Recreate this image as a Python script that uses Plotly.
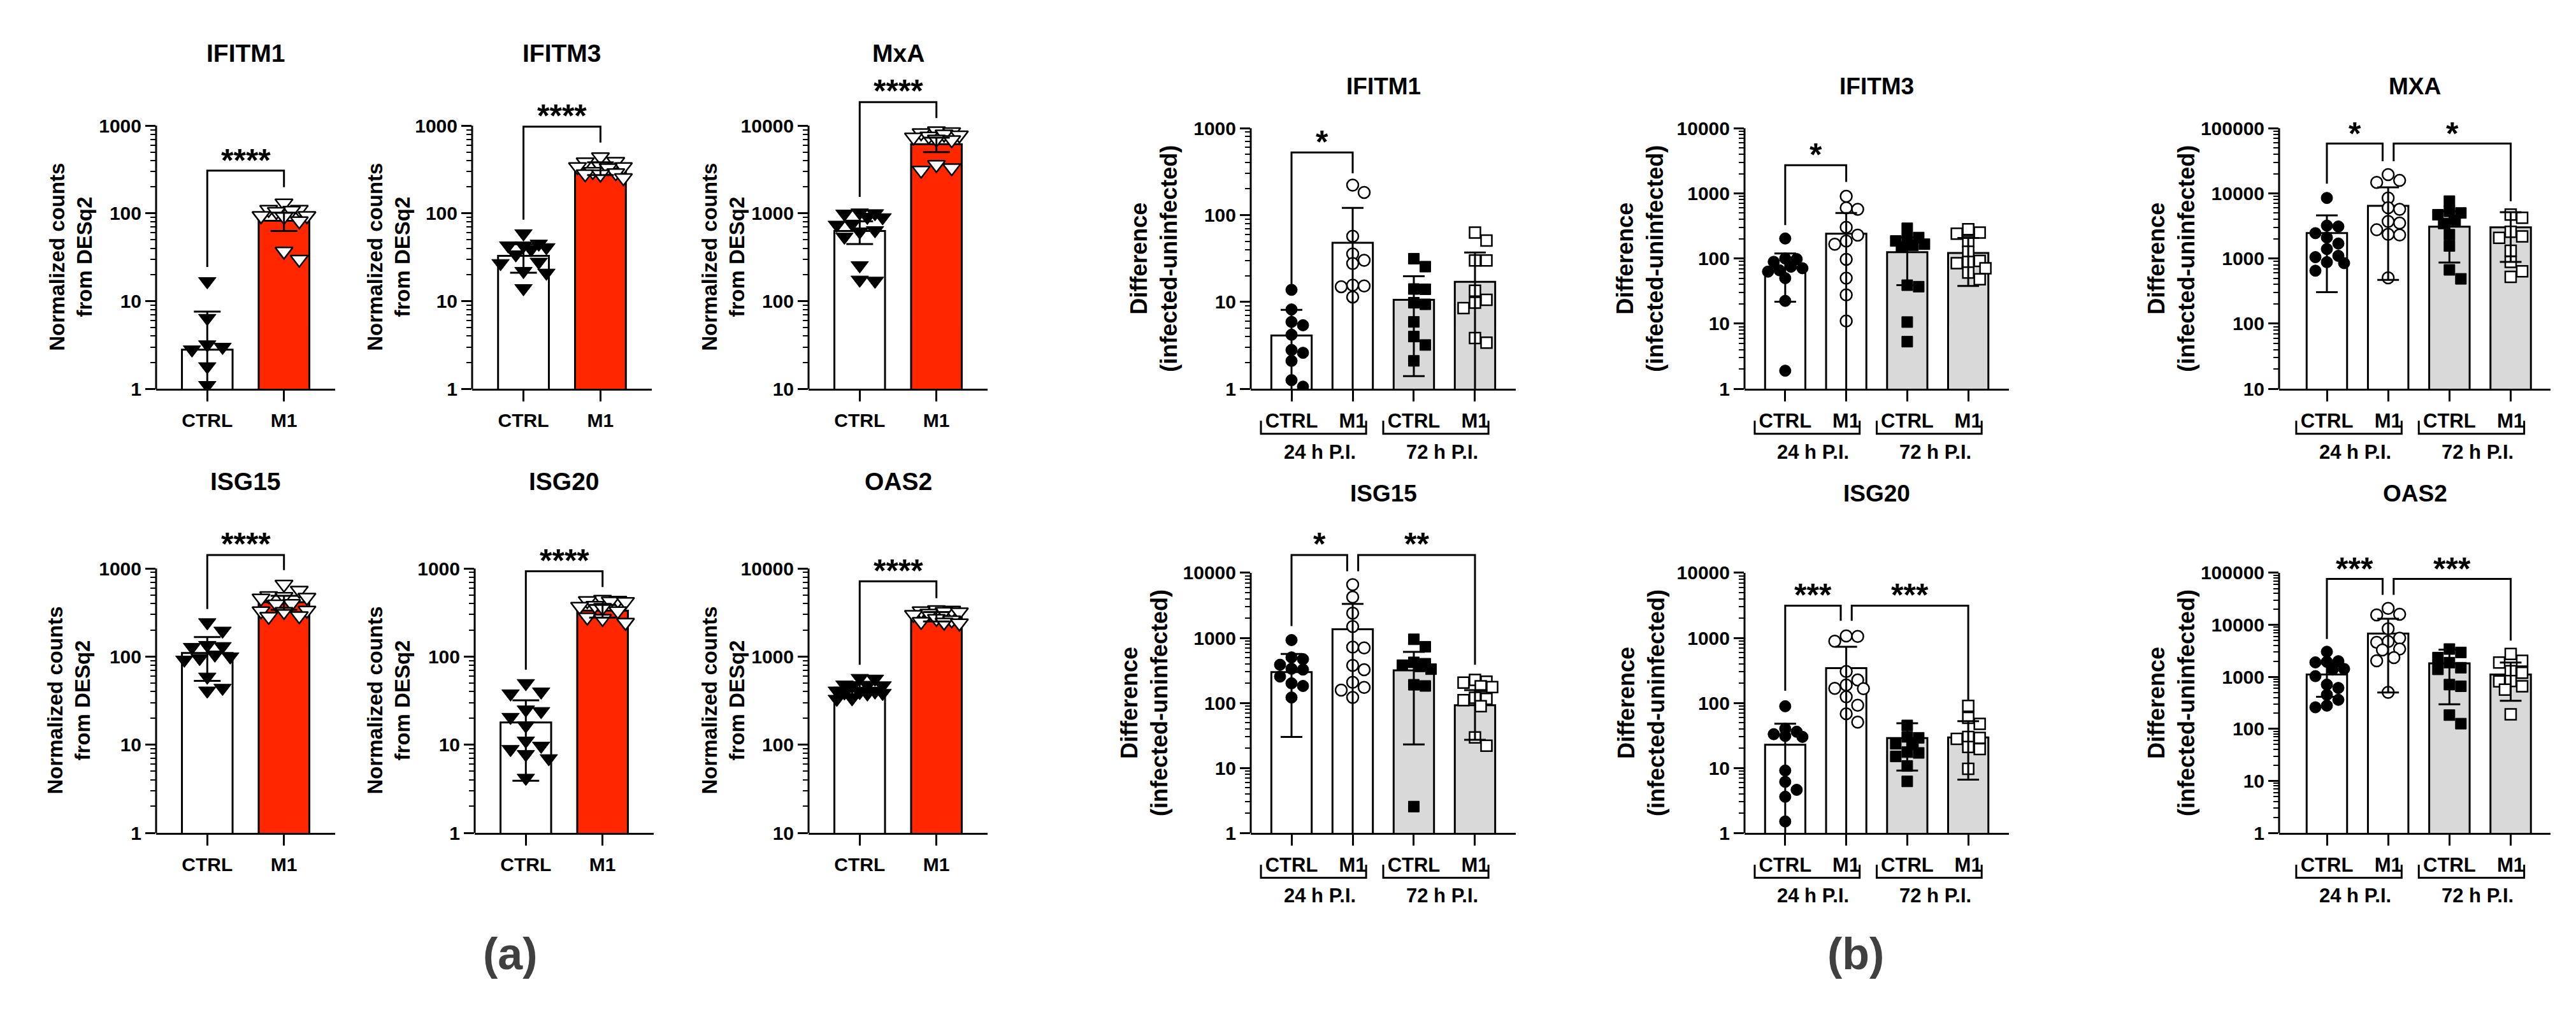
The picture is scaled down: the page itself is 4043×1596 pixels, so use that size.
import numpy as np
import plotly.graph_objects as go

W, H = 4043, 1596
FONT = "Liberation Sans, Arial, sans-serif"
RED = "#FF2600"
GREY = "#D9D9D9"

# --- datos ---
A_LABELS = ["CTRL", "M1"]
B_LABELS = ["CTRL", "M1", "CTRL", "M1"]
B_TIMES = ["24 h P.I.", "72 h P.I."]
A_YTITLE = "Normalized counts<br>from DESq2"
B_YTITLE = "Difference<br>(infected-uninfected)"

# (a) normalized counts; sig = (grupo i, grupo j, nivel, extremo izq, extremo der, texto, nivel texto)
a_ifitm1_ctrl = [16.8, 6.4, 3.2, 3.0, 2.8, 1.8, 1.1]
a_ifitm1_m1 = [131, 111, 111, 108, 105, 94, 94, 92, 82, 37, 30]
a_ifitm1_mean = [2.8, 82.5]
a_ifitm1_sd = [4.8, 19.5]
a_ifitm1_sig = [(0, 1, 307, 24.5, 199, "****", 470)]

a_ifitm3_ctrl = [59, 45, 43, 43, 41, 39, 34, 28, 27, 22, 21, 14]
a_ifitm3_m1 = [440, 390, 385, 345, 340, 340, 330, 300, 290, 282, 280, 255]
a_ifitm3_mean = [32.8, 328]
a_ifitm3_sd = [11.7, 55]
a_ifitm3_sig = [(0, 1, 975, 85, 641, "****", 1515)]

a_mxa_ctrl = [1020, 1000, 990, 910, 900, 760, 740, 640, 620, 540, 255, 175, 170]
a_mxa_m1 = [8700, 8500, 8300, 8000, 7800, 7600, 7400, 7000, 6900, 3600, 3300, 3100]
a_mxa_mean = [631, 6150]
a_mxa_sd = [183, 1160]
a_mxa_sig = [(0, 1, 18600, 1545, 12200, "****", 29400)]

a_isg15_ctrl = [244, 196, 135, 131, 128, 105, 100, 96, 92, 59, 44, 41]
a_isg15_m1 = [661, 564, 490, 480, 470, 460, 400, 395, 335, 330, 325, 290, 285]
a_isg15_mean = [110, 414]
a_isg15_sd = [57, 75]
a_isg15_sig = [(0, 1, 1423, 347, 958, "****", 2213)]

a_isg20_ctrl = [49.8, 40, 38, 25, 24, 20.6, 16.5, 11.1, 9.7, 8.9, 7.8, 7.0, 4.2]
a_isg20_m1 = [445, 435, 430, 425, 420, 380, 370, 360, 330, 280, 270, 244]
a_isg20_mean = [17.9, 332]
a_isg20_sd = [14, 55]
a_isg20_sig = [(0, 1, 931, 71, 616, "****", 1449)]

a_oas2_ctrl = [570, 560, 480, 476, 470, 460, 410, 400, 395, 390, 385, 380, 335, 330]
a_oas2_m1 = [3400, 3350, 3300, 3250, 3200, 3100, 3000, 2700, 2600, 2500, 2450, 2400]
a_oas2_mean = [444, 2858]
a_oas2_sd = [70, 350]
a_oas2_sig = [(0, 1, 7150, 809, 4600, "****", 11100)]

# (b) difference infected-uninfected: CTRL 24h, M1 24h, CTRL 72h, M1 72h
b_ifitm1_pts = [
    [13.8, 8.2, 5.9, 5.4, 4.2, 2.8, 2.6, 2.1, 1.26, 1.06],
    [221, 182, 57, 35.7, 30.2, 27.7, 15.6, 15.3, 15.0, 11.4],
    [31.5, 25.5, 14.1, 14.0, 9.8, 9.4, 5.9, 4.0, 3.2, 2.1],
    [63, 51, 30, 30, 13.5, 10.6, 9.8, 8.5, 3.85, 3.4],
]
b_ifitm1_mean = [4.12, 48, 10.6, 17.1]
b_ifitm1_sd = [4.0, 73, 9.2, 20]
b_ifitm1_sig = [(0, 1, 525, 16, 303, "*", 822)]

b_ifitm3_pts = [
    [203, 100, 98, 89, 75, 71, 66, 63, 50, 22.4, 1.9],
    [900, 600, 570, 302, 229, 186, 166, 97, 50, 27.7, 11],
    [291, 210, 200, 186, 166, 160, 150, 39, 37, 10.6, 5.3],
    [281, 250, 240, 183, 127, 92, 89, 85, 71, 61, 48],
]
b_ifitm3_mean = [70.8, 240, 125, 122]
b_ifitm3_sd = [49, 260, 86, 84]
b_ifitm3_sig = [(0, 1, 2700, 326, 1497, "*", 4900)]

b_mxa_pts = [
    [8500, 3200, 3100, 2450, 2100, 1700, 1400, 1100, 1050, 880, 850, 650],
    [19400, 15800, 14700, 8500, 6000, 5700, 3700, 3500, 2760, 2350, 2300, 505],
    [7600, 5300, 5000, 4700, 3860, 3450, 2320, 1560, 670, 488],
    [4730, 4230, 2570, 2190, 2075, 1320, 890, 637, 522],
]
b_mxa_mean = [2455, 6420, 3080, 3015]
b_mxa_sd = [2150, 5950, 2210, 2125]
b_mxa_sig = [(0, 1, 58000, 14100, 31200, "*", 102000),
             (1, 3, 58000, 31200, 7590, "*", 102000)]

b_isg15_pts = [
    [925, 500, 470, 386, 335, 325, 254, 200, 182, 121],
    [6580, 4230, 2400, 1490, 720, 700, 377, 324, 207, 173, 157, 121],
    [950, 730, 420, 400, 380, 364, 330, 190, 182, 2.54],
    [225, 212, 205, 180, 175, 120, 115, 110, 89, 29.5, 21.9],
]
b_isg15_mean = [298, 1356, 316, 92]
b_isg15_sd = [268, 1964, 293, 65]
b_isg15_sig = [(0, 1, 18800, 1520, 10600, "*", 34300),
               (1, 3, 18800, 10600, 386, "**", 34300)]

b_isg20_pts = [
    [88.7, 40, 36, 33, 31, 30, 9.1, 6.1, 4.6, 3.6, 1.5],
    [1070, 1050, 890, 304, 225, 188, 167, 165, 124, 92, 68, 50.6],
    [45, 30, 29, 23.5, 23, 17.5, 17, 15, 10.7, 6.2],
    [90, 59, 47.6, 30, 29, 28, 21, 19.5, 9.7],
]
b_isg20_mean = [22.7, 343, 28.8, 29.5]
b_isg20_sd = [25, 385, 19.7, 22.9]
b_isg20_sig = [(0, 1, 3130, 154, 1830, "***", 5700),
               (1, 3, 3130, 1830, 110, "***", 5700)]

b_oas2_pts = [
    [3040, 2000, 1950, 1900, 1420, 1380, 1033, 710, 612, 453, 362, 280, 260],
    [20700, 16000, 15500, 8430, 5540, 4780, 4630, 3430, 3300, 2350, 2040, 503],
    [3430, 2950, 2350, 1880, 1500, 1395, 710, 660, 184, 126],
    [2750, 2030, 1880, 1290, 1200, 830, 820, 660, 567, 190],
]
b_oas2_mean = [1114, 6800, 1820, 1114]
b_oas2_sd = [700, 6300, 1522, 766]
b_oas2_sig = [(0, 1, 76400, 5370, 37700, "***", 157000),
              (1, 3, 76400, 37700, 4980, "***", 157000)]

# --- estilos de grupo ---
A_STYLE = [dict(sym="triangle-down", size=24, fill="black", lw=1, bar="white", step=24),
           dict(sym="triangle-down", size=24, fill="white", lw=2.5, bar=RED, step=24)]
B_STYLE = [dict(sym="circle", size=18, fill="black", lw=1, bar="white", step=18),
           dict(sym="circle", size=18, fill="white", lw=2.5, bar="white", step=18),
           dict(sym="square", size=17, fill="black", lw=1, bar=GREY, step=18),
           dict(sym="square", size=17, fill="white", lw=2.5, bar=GREY, step=18)]

# --- paneles: caja en pixeles (eje y, fin eje x, tick superior, eje x) ---
AX = [-0.667, 1.667]
BX = [-0.667, 3.667]
BX2 = [-0.78, 3.65]
panels = [
    dict(kind="a", title="IFITM1", pts=[a_ifitm1_ctrl, a_ifitm1_m1], mean=a_ifitm1_mean, sd=a_ifitm1_sd,
         sig=a_ifitm1_sig, lo=0, hi=3, box=(237, 518, 176, 598), xr=AX, ty=60, yt=134),
    dict(kind="a", title="IFITM3", pts=[a_ifitm3_ctrl, a_ifitm3_m1], mean=a_ifitm3_mean, sd=a_ifitm3_sd,
         sig=a_ifitm3_sig, lo=0, hi=3, box=(733, 1015, 176, 598), xr=AX, ty=60, yt=131),
    dict(kind="a", title="MxA", pts=[a_mxa_ctrl, a_mxa_m1], mean=a_mxa_mean, sd=a_mxa_sd,
         sig=a_mxa_sig, lo=1, hi=4, box=(1261, 1542, 176, 598), xr=AX, ty=60, yt=134),
    dict(kind="a", title="ISG15", pts=[a_isg15_ctrl, a_isg15_m1], mean=a_isg15_mean, sd=a_isg15_sd,
         sig=a_isg15_sig, lo=0, hi=3, box=(237, 518, 886, 1310), xr=AX, ty=746, yt=137),
    dict(kind="a", title="ISG20", pts=[a_isg20_ctrl, a_isg20_m1], mean=a_isg20_mean, sd=a_isg20_sd,
         sig=a_isg20_sig, lo=0, hi=3, box=(737, 1018, 886, 1310), xr=AX, ty=746, yt=135),
    dict(kind="a", title="OAS2", pts=[a_oas2_ctrl, a_oas2_m1], mean=a_oas2_mean, sd=a_oas2_sd,
         sig=a_oas2_sig, lo=1, hi=4, box=(1261, 1542, 886, 1310), xr=AX, ty=746, yt=134),
    dict(kind="b", title="IFITM1", pts=b_ifitm1_pts, mean=b_ifitm1_mean, sd=b_ifitm1_sd,
         sig=b_ifitm1_sig, lo=0, hi=3, box=(1955, 2371, 180, 598), xr=BX, ty=113, yt=152),
    dict(kind="b", title="IFITM3", pts=b_ifitm3_pts, mean=b_ifitm3_mean, sd=b_ifitm3_sd,
         sig=b_ifitm3_sig, lo=0, hi=4, box=(2730, 3145, 180, 598), xr=BX, ty=113, yt=164),
    dict(kind="b", title="MXA", pts=b_mxa_pts, mean=b_mxa_mean, sd=b_mxa_sd,
         sig=b_mxa_sig, lo=1, hi=5, box=(3569, 3995, 180, 598), xr=BX2, ty=113, yt=169),
    dict(kind="b", title="ISG15", pts=b_isg15_pts, mean=b_isg15_mean, sd=b_isg15_sd,
         sig=b_isg15_sig, lo=0, hi=4, box=(1955, 2371, 893, 1310), xr=BX, ty=766, yt=167),
    dict(kind="b", title="ISG20", pts=b_isg20_pts, mean=b_isg20_mean, sd=b_isg20_sd,
         sig=b_isg20_sig, lo=0, hi=4, box=(2730, 3145, 893, 1310), xr=BX, ty=766, yt=162),
    dict(kind="b", title="OAS2", pts=b_oas2_pts, mean=b_oas2_mean, sd=b_oas2_sd,
         sig=b_oas2_sig, lo=0, hi=5, box=(3569, 3995, 893, 1310), xr=BX2, ty=766, yt=169),
]


def swarm(vals, dec_px, unit_px, size_px):
    # reparte los puntos a lo ancho como hace GraphPad (sin solaparse si cabe)
    v = np.asarray(vals, float)
    ys = np.log10(v) * dec_px
    cands = [0.0, size_px, -size_px, 0.5 * size_px, -0.5 * size_px,
             1.5 * size_px, -1.5 * size_px]
    placed, offs = [], np.zeros(len(v))
    for i in np.argsort(-v):
        best, best_d = 0.0, -1.0
        for c in cands:
            d = min((np.hypot(c - px, ys[i] - py) for px, py in placed), default=1e9)
            if d >= 0.85 * size_px:
                best = c
                break
            if d > best_d:
                best, best_d = c, d
        offs[i] = best
        placed.append((best, ys[i]))
    return offs / unit_px


def fnt(size, color="black"):
    return dict(family=FONT, size=size, color=color, weight="bold")


def label(**kw):
    return dict(showarrow=False, xanchor="center", yanchor="middle", **kw)


fig = go.Figure()
ann, shp = [], []

for n, p in enumerate(panels, start=1):
    sx = "" if n == 1 else str(n)
    xr, yr = "x" + sx, "y" + sx
    x0, x1, ytop, ybot = p["box"]
    lo, hi = p["lo"], p["hi"]
    dec = (ybot - ytop) / (hi - lo)
    unit = (x1 - x0) / (p["xr"][1] - p["xr"][0])
    top = max([hi] + [np.log10(s[6]) + 6 / dec for s in p["sig"]])
    dom_top = ytop - (top - hi) * dec
    style = A_STYLE if p["kind"] == "a" else B_STYLE
    ng = len(p["pts"])
    cap = 21 if p["kind"] == "a" else 17

    fig.add_trace(go.Bar(x=list(range(ng)), y=p["mean"], width=0.66,
                         marker=dict(color=[s["bar"] for s in style], line=dict(color="black", width=3)),
                         xaxis=xr, yaxis=yr))
    for g, vals in enumerate(p["pts"]):
        st = style[g]
        offs = swarm(vals, dec, unit, st["step"])
        fig.add_trace(go.Scatter(x=g + offs, y=vals, mode="markers",
                                 marker=dict(symbol=st["sym"], size=st["size"], color=st["fill"],
                                             line=dict(color="black", width=st["lw"])),
                                 xaxis=xr, yaxis=yr))
    fig.add_trace(go.Scatter(x=list(range(ng)), y=p["mean"], mode="markers",
                             marker=dict(size=1, color="rgba(0,0,0,0)"),
                             error_y=dict(type="data", array=p["sd"], color="black", thickness=3, width=cap),
                             xaxis=xr, yaxis=yr))

    # corchetes de significacion
    for (i, j, lev, le, re, lab, ly) in p["sig"]:
        xi = i + (0.09 if any(s[1] == i for s in p["sig"]) else 0)
        xj = j - (0.09 if any(s[0] == j for s in p["sig"]) else 0)
        fig.add_trace(go.Scatter(x=[xi, xi, xj, xj], y=[le, lev, lev, re], mode="lines",
                                 line=dict(color="black", width=3), xaxis=xr, yaxis=yr))
        ann.append(label(x=(xi + xj) / 2, y=np.log10(ly), xref=xr, yref=yr, text=lab,
                         font=fnt(50), yshift=-10))

    fig.update_layout({
        "xaxis" + sx: dict(domain=[x0 / W, x1 / W], range=p["xr"], anchor=yr,
                           tickvals=list(range(ng)), ticktext=A_LABELS if ng == 2 else B_LABELS,
                           ticks="outside", ticklen=17, tickwidth=3, tickcolor="black",
                           showline=True, linewidth=3, linecolor="black", showgrid=False, zeroline=False,
                           tickfont=fnt(30 if ng == 2 else 31), ticklabelstandoff=4),
        "yaxis" + sx: dict(domain=[1 - ybot / H, 1 - dom_top / H], type="log", range=[lo, top], anchor=xr,
                           tickvals=[10 ** k for k in range(lo, hi + 1)],
                           ticktext=[str(10 ** k) for k in range(lo, hi + 1)],
                           ticks="outside", ticklen=16, tickwidth=3, tickcolor="black",
                           showline=False, showgrid=False, zeroline=False,
                           minor=dict(tickvals=[m * 10 ** k for k in range(lo, hi) for m in range(2, 10)],
                                      ticks="outside", ticklen=8, tickwidth=2, tickcolor="black",
                                      showgrid=False),
                           tickfont=fnt(30)),
    })
    # eje y dibujado solo hasta el ultimo tick
    shp.append(dict(type="line", xref="paper", x0=x0 / W, x1=x0 / W, yref=yr + " domain",
                    y0=0, y1=(hi - lo) / (top - lo), line=dict(color="black", width=3)))

    ann.append(label(xref="paper", yref="paper", x=(x0 + x1) / 2 / W, y=1 - p["ty"] / H, text=p["title"],
                     font=fnt(39 if p["kind"] == "a" else 37)))
    ann.append(label(xref="paper", yref="paper", x=(x0 - p["yt"]) / W, y=1 - (ytop + ybot) / 2 / H,
                     text=A_YTITLE if p["kind"] == "a" else B_YTITLE, textangle=-90,
                     font=fnt(33 if p["kind"] == "a" else 36)))

    if p["kind"] == "b":
        yb, yt = 1 - (ybot + 72) / H, 1 - (ybot + 51) / H
        for k, (a0, a1) in enumerate([(-0.5, 1.22), (1.5, 3.22)]):
            shp.append(dict(type="path", xref=xr, yref="paper",
                            path=f"M {a0},{yt} L {a0},{yb} L {a1},{yb} L {a1},{yt}",
                            line=dict(color="black", width=3)))
            ann.append(label(xref=xr, yref="paper", x=(a0 + a1) / 2 + 0.1, y=1 - (ybot + 101) / H,
                             text=B_TIMES[k], font=fnt(31)))

ann.append(label(xref="paper", yref="paper", x=793 / W, y=1 - 1504 / H, text="(a)", font=fnt(70, "#404040")))
ann.append(label(xref="paper", yref="paper", x=2904 / W, y=1 - 1504 / H, text="(b)", font=fnt(70, "#404040")))

fig.update_layout(width=W, height=H, autosize=False, margin=dict(l=0, r=0, t=0, b=0),
                  paper_bgcolor="white", plot_bgcolor="white", showlegend=False,
                  annotations=ann, shapes=shp, font=dict(family=FONT, color="black"))

fig.write_html("out.html")
